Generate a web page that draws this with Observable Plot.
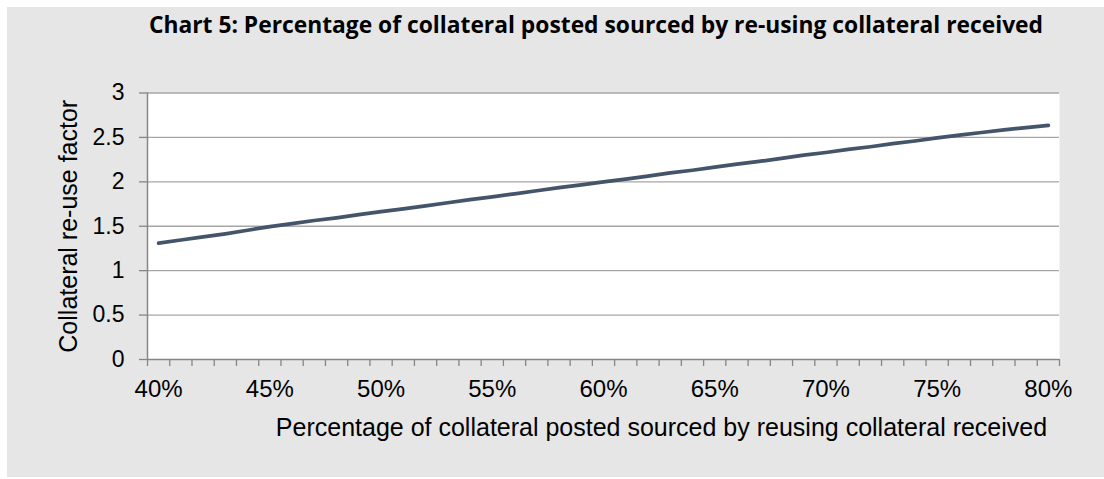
<!DOCTYPE html>
<html>
<head>
<meta charset="utf-8">
<script src="https://cdn.jsdelivr.net/npm/d3@7"></script>
<script src="https://cdn.jsdelivr.net/npm/@observablehq/plot@0.6"></script>
<style>
  html, body { margin: 0; padding: 0; background: #ffffff; }
  #wrap { position: relative; width: 1104px; height: 479px; overflow: hidden; }
  #panel { position: absolute; left: 7px; top: 7px; right: 0; bottom: 2px; background: #e6e6e6; }
  #title { position: absolute; left: 146px; width: 900px; top: 9px; text-align: center;
           font-family: "Open Sans", sans-serif; font-weight: 700; font-size: 22.8px; color: #000; white-space: nowrap; }
  #chart { position: absolute; left: 0; top: 0; }
</style>
</head>
<body>
<div id="wrap">
  <div id="panel"></div>
  <div id="title">Chart 5: Percentage of collateral posted sourced by re-using collateral received</div>
  <div id="chart"></div>
</div>
<script>
const titleText = "Chart 5: Percentage of collateral posted sourced by re-using collateral received";
const xTitle = "Percentage of collateral posted sourced by reusing collateral received";
const yTitle = "Collateral re-use factor";

// categories: percentage of collateral posted sourced by re-using collateral received
const percents = [40,41,42,43,44,45,46,47,48,49,50,51,52,53,54,55,56,57,58,59,60,
                  61,62,63,64,65,66,67,68,69,70,71,72,73,74,75,76,77,78,79,80];
// collateral re-use factor
const reuseFactor = [1.31,1.345,1.38,1.415,1.455,1.495,1.53,1.565,1.595,1.63,1.665,
                     1.695,1.73,1.765,1.80,1.83,1.865,1.90,1.935,1.965,2.00,
                     2.03,2.065,2.10,2.13,2.165,2.20,2.23,2.265,2.30,2.33,
                     2.365,2.395,2.43,2.46,2.495,2.525,2.555,2.585,2.61,2.635];
const xLabelTicks = [40,45,50,55,60,65,70,75,80];
const yTicks = [0,0.5,1,1.5,2,2.5,3];

const data = percents.map((p, i) => ({p, v: reuseFactor[i]}));
const boundaries = d3.range(percents.length + 1).map(i => percents[0] - 0.5 + i);

const axisColor = "#868686";
const gridColor = "#a6a6a6";

const chart = Plot.plot({
  width: 1104,
  height: 479,
  marginLeft: 147,
  marginRight: 45,
  marginTop: 92.5,
  marginBottom: 120,
  style: {background: "transparent", fontFamily: "'Liberation Sans', Arial, sans-serif", fontSize: "24px", color: "#000"},
  x: {type: "linear", domain: [percents[0] - 0.5, percents[percents.length - 1] + 0.5]},
  y: {type: "linear", domain: [0, 3]},
  marks: [
    Plot.frame({fill: "white", stroke: null}),
    Plot.gridY(yTicks.filter(d => d > 0), {stroke: gridColor, strokeOpacity: 1, strokeWidth: 1.3}),
    Plot.axisY(yTicks, {tickSize: 8, tickPadding: 15, stroke: axisColor, strokeWidth: 1.3, fill: "#000", fontSize: 23, label: null, tickFormat: d => String(d)}),
    Plot.axisX(boundaries, {tickSize: 7, stroke: axisColor, strokeWidth: 1.3, tickFormat: () => "", label: null}),
    Plot.axisX(xLabelTicks, {tickSize: 0, tickPadding: 20, fill: "#000", fontSize: 24, label: null, tickFormat: d => d + "%"}),
    Plot.ruleY([0], {stroke: axisColor, strokeWidth: 1.5}),
    Plot.ruleX([percents[0] - 0.5], {stroke: axisColor, strokeWidth: 1.5}),
    Plot.line(data, {x: "p", y: "v", stroke: "#44546a", strokeWidth: 3.7}),
    Plot.text([yTitle], {frameAnchor: "left", textAnchor: "middle", dx: -79, rotate: -90, fontSize: 25, fill: "#000"}),
    Plot.text([xTitle], {frameAnchor: "bottom", dx: 58, dy: 76, fontSize: 25, fill: "#000"})
  ]
});
document.getElementById("chart").appendChild(chart);
</script>
</body>
</html>
